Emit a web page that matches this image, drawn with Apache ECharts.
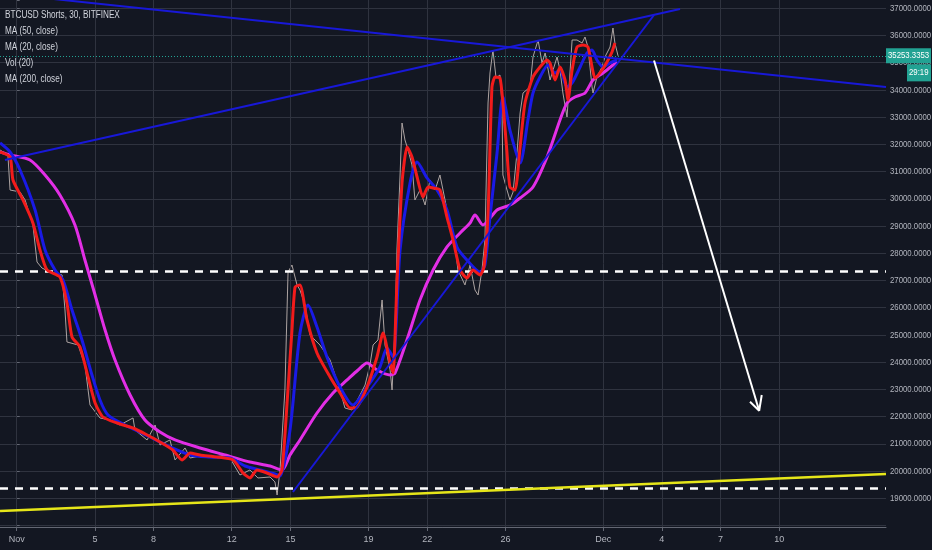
<!DOCTYPE html>
<html><head><meta charset="utf-8">
<script src="https://cdn.jsdelivr.net/npm/echarts@6/dist/echarts.min.js"></script>
<style>html,body{margin:0;padding:0;background:#131722;}#c{width:932px;height:550px;}</style>
</head><body><div id="c"></div>
<script>
// ---- data (x = days since Nov 1, y = price in USD) ----
const legendLines = ['BTCUSD Shorts, 30, BITFINEX', 'MA (50, close)', 'MA (20, close)', 'Vol (20)', 'MA (200, close)'];
const tickDays = [0, 4, 7, 11, 14, 18, 21, 25, 30, 33, 36, 39];
const tickLabels = ['Nov', '5', '8', '12', '15', '19', '22', '26', 'Dec', '4', '7', '10'];
const yTicks = [19000, 20000, 21000, 22000, 23000, 24000, 25000, 26000, 27000, 28000, 29000, 30000, 31000, 32000, 33000, 34000, 35000, 36000, 37000];
const xRange = [-0.854, 44.466];
const yRange = [17945, 37305];

const price = [
[-0.85,31795],[-0.45,31611],[-0.34,30325],[0.17,30252],[0.43,29958],[0.83,29040],[1.04,27680],[1.29,27460],
[1.70,27313],[2.32,27203],[2.47,25917],[2.57,24742],[3.14,24631],[3.49,23897],[3.75,22427],[4.26,21950],
[4.77,21876],[5.28,21693],[5.95,21950],[6.05,21509],[6.67,21142],[7.08,21693],[7.33,20958],[7.84,21142],
[8.10,20407],[8.61,20848],[8.87,20480],[9.38,20554],[10.14,20517],[10.66,20591],[10.91,20480],[11.42,19856],
[11.93,20040],[12.34,19746],[12.96,19782],[13.21,19599],[13.32,19121],[13.47,20040],[13.72,22978],[13.88,27313],
[14.08,27570],[14.34,26836],[14.49,26652],[14.75,26101],[15.00,25003],[15.51,24631],[16.03,24080],[16.54,22978],
[16.79,22317],[17.15,22244],[17.56,22794],[17.82,23162],[18.07,23897],[18.23,24631],[18.48,24815],[18.69,26285],
[18.84,24631],[19.10,23713],[19.20,22978],[19.35,25181],[19.45,28121],[19.61,30876],[19.71,32787],[19.86,32162],
[20.02,31795],[20.22,31244],[20.37,29958],[20.63,30325],[20.89,29774],[21.14,30693],[21.40,30325],[21.65,30876],
[21.91,29958],[22.16,29040],[22.42,28305],[22.57,27387],[22.93,26836],[23.19,27570],[23.44,26652],[23.60,26468],
[23.80,27387],[23.95,28489],[24.11,33521],[24.21,34623],[24.36,35468],[24.52,34440],[24.72,34550],[24.82,33521],
[24.87,30876],[25.08,30325],[25.23,29958],[25.39,30252],[25.59,31685],[25.75,33154],[25.90,33889],[26.26,34109],
[26.41,35211],[26.67,35836],[26.87,34991],[27.03,35358],[27.28,34366],[27.64,35211],[27.79,34733],[27.94,33889],
[28.15,33007],[28.20,33521],[28.41,35836],[28.66,35836],[28.92,35725],[29.07,35946],[29.22,35578],[29.43,34109],
[29.48,33889],[29.68,34476],[29.94,34844],[30.09,35211],[30.35,35578],[30.50,36276],[30.60,35725],[30.76,35253]
];
const ma20 = [
[-0.85,31721],[-0.34,31538],[-0.19,30693],[0.32,29958],[0.83,29113],[1.19,28121],[1.55,27387],[2.21,27129],
[2.57,26174],[2.83,24925],[3.24,24558],[3.65,23456],[4.01,22501],[4.41,21986],[5.13,21766],[5.95,21582],
[6.67,21325],[7.33,21068],[7.99,20774],[8.46,20407],[8.87,20664],[9.38,20591],[10.25,20517],[11.07,20407],
[11.58,19930],[11.93,19746],[12.29,20040],[12.80,19930],[13.31,19782],[13.57,20040],[13.83,22501],[14.08,25182],
[14.24,26762],[14.49,26836],[14.85,25550],[15.36,24337],[16.03,23456],[16.54,22868],[17.05,22317],[17.41,22354],
[17.92,23089],[18.43,24190],[18.74,25072],[19.10,23970],[19.25,23603],[19.45,26909],[19.71,30582],[19.97,31905],
[20.22,31538],[20.48,30803],[20.78,30068],[21.04,30436],[21.30,30399],[21.65,30325],[22.01,29333],[22.32,28489],
[22.68,27387],[23.03,27093],[23.34,27387],[23.70,27203],[23.90,27497],[24.11,29481],[24.31,34109],[24.47,34476],
[24.72,34440],[24.87,33521],[25.08,31685],[25.23,30436],[25.49,30325],[25.75,31905],[26.00,33521],[26.41,34476],
[26.77,34844],[27.13,35101],[27.28,34991],[27.54,34366],[27.79,34844],[28.05,34366],[28.20,33632],[28.41,34733],
[28.66,35578],[28.97,35652],[29.22,35578],[29.43,34844],[29.58,34440],[29.94,34733],[30.25,35101],[30.45,35395],
[30.60,35725]
];
const ma50 = [
[-0.85,32052],[-0.34,31721],[0.17,31060],[0.94,29591],[1.45,28121],[1.96,27387],[2.37,27019],[2.83,25917],
[3.34,24815],[3.85,23529],[4.26,22611],[4.67,22060],[5.54,21693],[6.82,21252],[7.84,20885],[8.87,20591],
[9.89,20517],[10.91,20480],[11.68,20186],[12.45,20040],[13.21,19893],[13.47,19819],[13.98,21509],[14.49,25072],
[14.90,26101],[15.36,25293],[15.87,24191],[16.54,23089],[17.20,22428],[17.92,23089],[18.58,23824],[18.94,24521],
[19.25,24191],[19.61,28121],[20.12,30582],[20.48,31354],[20.99,30766],[21.50,30325],[22.01,29591],[22.52,28232],
[23.03,27754],[23.70,27313],[23.95,27570],[24.21,29334],[24.57,31685],[24.87,33742],[25.23,32529],[25.75,31317],
[26.15,32897],[26.41,33889],[26.77,34476],[27.18,34917],[27.54,34623],[27.79,34733],[28.15,34109],[28.41,34256],
[28.82,34844],[29.17,35358],[29.43,35468],[29.68,35101],[29.99,34844],[30.35,34991],[30.71,35101]
];
const ma200 = [
[-0.85,31721],[-0.34,31611],[0.68,31427],[1.45,30876],[2.21,30142],[2.98,29040],[3.49,27754],[4.01,26469],
[4.52,25182],[5.03,24080],[5.80,22795],[6.56,21876],[7.33,21435],[8.10,21142],[9.38,20848],[10.66,20591],
[11.93,20334],[12.96,20186],[13.57,20040],[13.98,20591],[14.49,21142],[15.36,22133],[16.18,22868],[16.90,23346],
[17.46,23713],[17.92,23970],[18.43,23713],[19.10,23529],[19.35,23603],[19.96,24815],[20.63,26285],[21.30,27387],
[22.01,28232],[22.68,28746],[23.19,29113],[23.44,29407],[23.85,29040],[24.57,29591],[25.23,29774],[25.75,30031],
[26.41,30436],[27.13,31538],[27.79,32897],[28.15,33521],[28.56,33742],[29.07,33889],[29.48,34366],[29.99,34623],
[30.50,34917],[30.71,35028]
];
const trendTop = [[-0.854, 37550], [44.466, 34109]];
const trendRise = [[-0.60, 31427], [33.93, 36974]];
const trendSupport = [[14.13, 19231], [32.60, 36754]];
const yellowLine = [[-0.854, 18533], [44.466, 19893]];
const dashedLevels = [27331, 19378];
const lastPrice = 35253.3353;
const lastPriceText = '35253.3353';
const countdown = '29:19';
const arrowShaft = [[32.60, 35083], [37.98, 22218]];
const arrowHead = [[37.51, 22549], [37.98, 22218], [38.11, 22795]];

// ---- chart ----
const FONT = '"Liberation Sans", Arial, sans-serif';
const GRID = '#2f333f';
const AXIS = '#636773';
const TXT = '#b2b5be';
const TEAL = '#22a293';
const NARROW = 0.82;
const chart = echarts.init(document.getElementById('c'), null, {renderer: 'canvas'});

function line(name, data, color, width, z, smooth) {
  return {name, type: 'line', data, symbol: 'none', showSymbol: false, smooth: smooth || false,
    lineStyle: {color, width}, z, silent: true, animation: false};
}

const option = {
  backgroundColor: '#131722',
  animation: false,
  grid: {left: 0, right: 46, top: 0, bottom: 23, containLabel: false, outerBoundsMode: 'none'},
  xAxis: {type: 'value', min: xRange[0], max: xRange[1],
    axisLine: {show: true, lineStyle: {color: AXIS}},
    axisTick: {show: true, length: 4, customValues: tickDays, lineStyle: {color: AXIS}},
    axisLabel: {show: true, customValues: tickDays, color: TXT, fontSize: 9, fontFamily: FONT, margin: 8,
      formatter: v => { const i = tickDays.indexOf(Math.round(v)); return i >= 0 ? tickLabels[i] : ''; }},
    splitLine: {show: false}},
  yAxis: {type: 'value', position: 'right', min: yRange[0], max: yRange[1], scale: true,
    splitNumber: 20, minInterval: 1000, maxInterval: 1000,
    axisLine: {show: true, lineStyle: {color: AXIS}},
    axisTick: {show: true, length: 3, lineStyle: {color: AXIS}},
    axisLabel: {show: false},
    splitLine: {show: true, showMinLine: false, showMaxLine: false, lineStyle: {color: GRID, width: 1}}},
  series: [
    {name: 'grid', type: 'line', data: [], z: 1, silent: true,
      markLine: {silent: true, symbol: ['none', 'none'], label: {show: false}, animation: false,
        lineStyle: {color: GRID, width: 1, type: 'solid'}, data: tickDays.map(d => ({xAxis: d}))}},
    {name: 'levels', type: 'line', data: [], z: 3, silent: true,
      markLine: {silent: true, symbol: ['none', 'none'], label: {show: false}, animation: false,
        lineStyle: {color: '#ffffff', width: 2.5, type: [8, 7]}, data: dashedLevels.map(v => ({yAxis: v}))}},
    {name: 'last', type: 'line', data: [], z: 3, silent: true,
      markLine: {silent: true, symbol: ['none', 'none'], label: {show: false}, animation: false,
        lineStyle: {color: TEAL, width: 1, type: [1, 2]}, data: [{yAxis: lastPrice}]}},
    line('price', price, '#ada4a2', 1, 4),
    line('MA (200, close)', ma200, '#e32ee6', 3, 5, 0.25),
    line('MA (50, close)', ma50, '#1a1ae6', 3, 6, 0.25),
    line('MA (20, close)', ma20, '#f21b1b', 3, 7, 0.2),
    line('trendTop', trendTop, '#1818d8', 2, 8),
    line('trendRise', trendRise, '#1818d8', 2, 8),
    line('trendSupport', trendSupport, '#1818d8', 2, 8),
    line('yellow', yellowLine, '#e6e619', 2.5, 8),
    line('arrowShaft', arrowShaft, '#ffffff', 2, 9),
    line('arrowHead', arrowHead, '#ffffff', 2, 9)
  ]
};
chart.setOption(option);

// text drawn with a narrow horizontal scale, positioned through the chart's own scales
const px = chart.convertToPixel({xAxisIndex: 0}, xRange[1]);
const py = chart.convertToPixel({yAxisIndex: 0}, lastPrice);
const g = [];
yTicks.forEach(v => {
  g.push({type: 'text', x: px + 4, y: chart.convertToPixel({yAxisIndex: 0}, v), scaleX: NARROW, silent: true, z: 10,
    style: {text: v.toFixed(4), fill: TXT, font: '9.5px ' + FONT, verticalAlign: 'middle'}});
});
legendLines.forEach((t, i) => {
  g.push({type: 'text', x: 5, y: 15.7 + 16 * i, scaleX: NARROW, silent: true, z: 10,
    style: {text: t, fill: '#d1d4dc', font: '10px ' + FONT, verticalAlign: 'middle'}});
});
g.push({type: 'rect', shape: {x: px, y: py - 7.5, width: 45, height: 15}, style: {fill: TEAL}, z: 20, silent: true});
g.push({type: 'text', x: px + 2, y: py, scaleX: NARROW, silent: true, z: 21,
  style: {text: lastPriceText, fill: '#ffffff', font: '9.5px ' + FONT, verticalAlign: 'middle'}});
g.push({type: 'rect', shape: {x: px + 21, y: py + 8.5, width: 24, height: 17}, style: {fill: TEAL}, z: 20, silent: true});
g.push({type: 'text', x: px + 23, y: py + 17, scaleX: NARROW, silent: true, z: 21,
  style: {text: countdown, fill: '#ffffff', font: '9.5px ' + FONT, verticalAlign: 'middle'}});
chart.setOption({graphic: g});
</script></body></html>
